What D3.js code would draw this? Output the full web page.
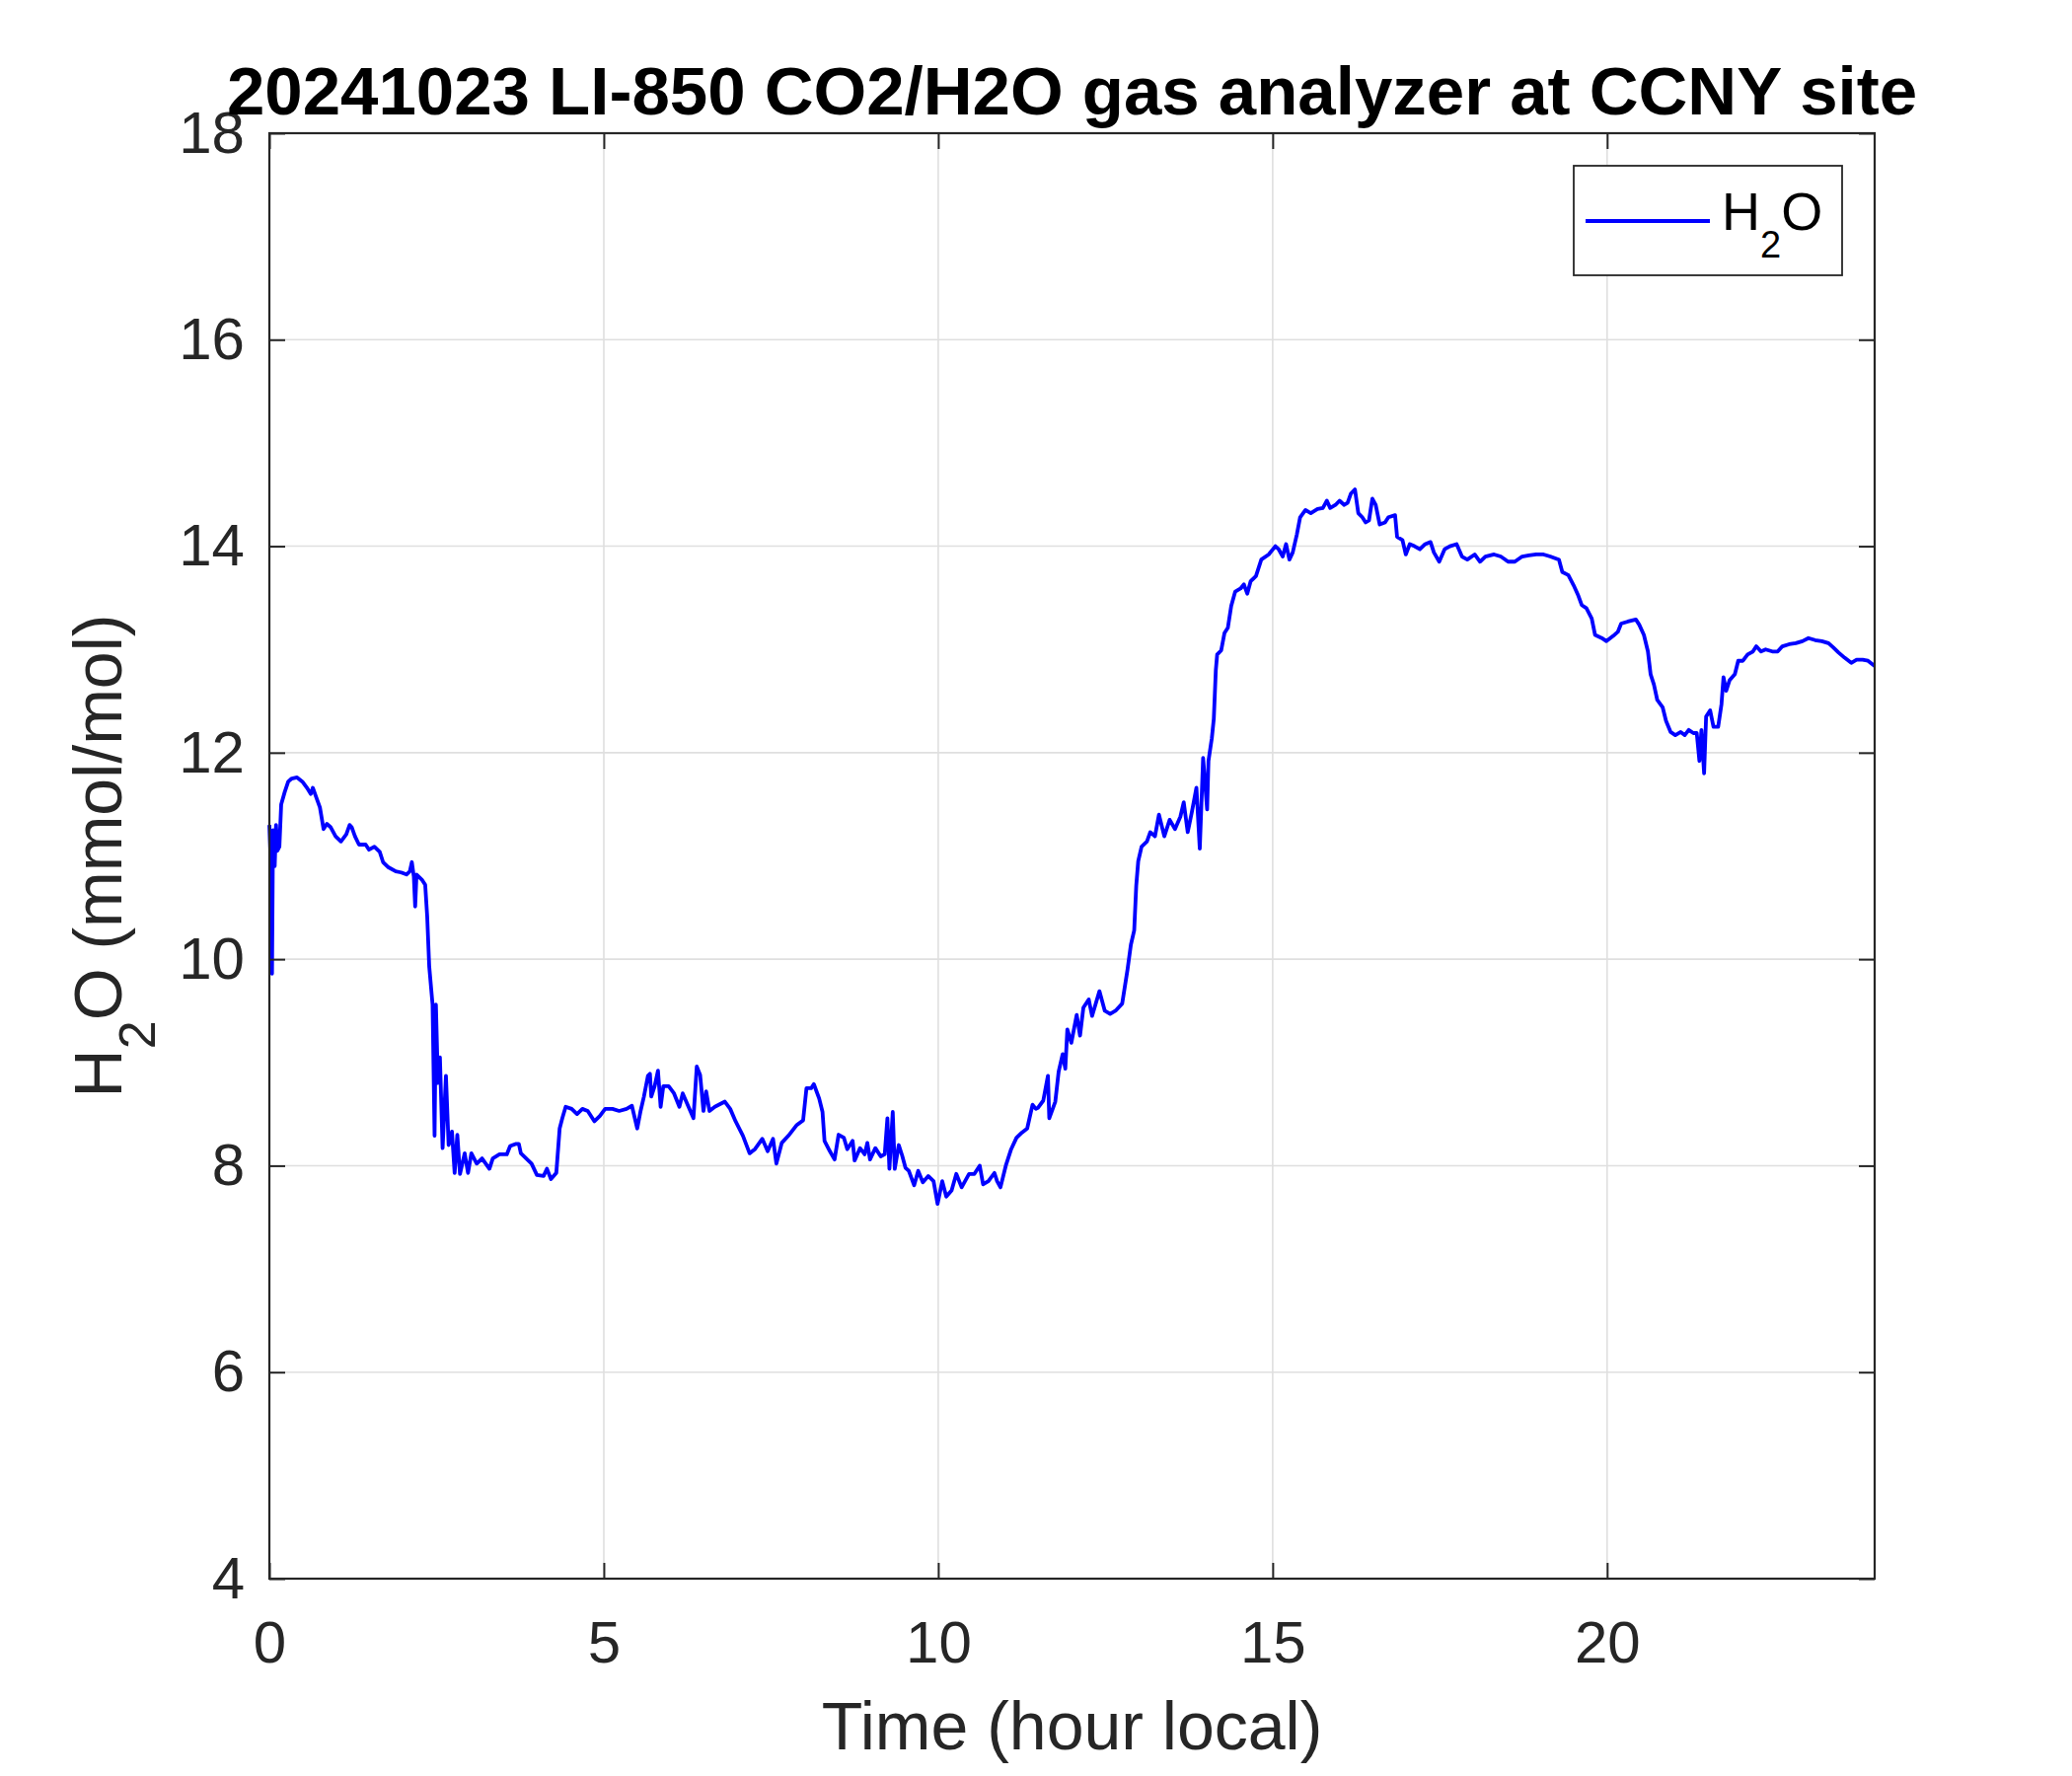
<!DOCTYPE html>
<html>
<head>
<meta charset="utf-8">
<script src="https://cdn.jsdelivr.net/npm/d3@7"></script>
<style>
  html, body { margin: 0; padding: 0; background: #ffffff; }
  svg { display: block; }
  text { font-family: "Liberation Sans", Arial, Helvetica, sans-serif; }
</style>
</head>
<body>
<svg id="chart" width="2100" height="1800"></svg>
<script>
// ---- Data ----
const titleText = "20241023 LI-850 CO2/H2O gas analyzer at CCNY site";
const xTicks = [0, 5, 10, 15, 20];
const yTicks = [4, 6, 8, 10, 12, 14, 16, 18];
const seriesName = "H2O";

const hours = [
  0.000, 0.020, 0.040, 0.055, 0.080, 0.100, 0.120, 0.150, 0.177, 0.230,
  0.282, 0.335, 0.414, 0.493, 0.572, 0.620, 0.650, 0.700, 0.756, 0.810,
  0.860, 0.914, 0.990, 1.070, 1.150, 1.200, 1.230, 1.280, 1.340, 1.440,
  1.490, 1.570, 1.650, 1.700, 1.780, 1.890, 1.970, 2.050, 2.100, 2.130,
  2.160, 2.180, 2.200, 2.280, 2.330, 2.360, 2.390, 2.440, 2.470, 2.490,
  2.520, 2.550, 2.590, 2.640, 2.680, 2.730, 2.770, 2.810, 2.850, 2.920,
  2.970, 3.020, 3.100, 3.180, 3.290, 3.340, 3.440, 3.550, 3.600, 3.680,
  3.730, 3.760, 3.840, 3.920, 4.000, 4.100, 4.150, 4.210, 4.290, 4.340,
  4.380, 4.430, 4.520, 4.600, 4.680, 4.760, 4.860, 4.940, 5.020, 5.130,
  5.230, 5.340, 5.420, 5.500, 5.550, 5.600, 5.660, 5.690, 5.710, 5.760,
  5.810, 5.850, 5.890, 5.970, 6.050, 6.130, 6.180, 6.260, 6.340, 6.390,
  6.440, 6.490, 6.530, 6.580, 6.660, 6.810, 6.890, 6.970, 7.080, 7.180,
  7.260, 7.370, 7.450, 7.530, 7.580, 7.660, 7.760, 7.880, 7.980, 8.030,
  8.100, 8.140, 8.220, 8.270, 8.300, 8.380, 8.450, 8.510, 8.590, 8.640,
  8.720, 8.750, 8.830, 8.900, 8.940, 8.980, 9.060, 9.140, 9.200, 9.240,
  9.270, 9.320, 9.350, 9.410, 9.460, 9.510, 9.560, 9.640, 9.700, 9.770,
  9.850, 9.930, 9.990, 10.060, 10.120, 10.200, 10.270, 10.350, 10.460, 10.540,
  10.620, 10.670, 10.750, 10.840, 10.880, 10.930, 11.010, 11.090, 11.170, 11.250,
  11.330, 11.410, 11.460, 11.490, 11.570, 11.640, 11.660, 11.750, 11.800, 11.860,
  11.900, 11.930, 11.990, 12.070, 12.120, 12.170, 12.250, 12.300, 12.410, 12.490,
  12.570, 12.650, 12.750, 12.830, 12.880, 12.930, 12.960, 12.990, 13.040, 13.120,
  13.170, 13.240, 13.300, 13.380, 13.460, 13.540, 13.620, 13.670, 13.730, 13.790,
  13.860, 13.910, 13.960, 14.020, 14.040, 14.090, 14.120, 14.150, 14.170, 14.230,
  14.280, 14.330, 14.380, 14.440, 14.520, 14.570, 14.620, 14.670, 14.750, 14.830,
  14.940, 15.040, 15.090, 15.150, 15.200, 15.250, 15.300, 15.360, 15.410, 15.490,
  15.570, 15.670, 15.750, 15.810, 15.860, 15.940, 16.000, 16.070, 16.120, 16.170,
  16.230, 16.280, 16.340, 16.390, 16.440, 16.490, 16.540, 16.600, 16.680, 16.730,
  16.830, 16.860, 16.940, 16.990, 17.050, 17.120, 17.200, 17.280, 17.360, 17.410,
  17.490, 17.570, 17.650, 17.750, 17.830, 17.910, 18.020, 18.100, 18.180, 18.310,
  18.410, 18.520, 18.620, 18.730, 18.830, 18.940, 19.050, 19.150, 19.280, 19.330,
  19.420, 19.500, 19.570, 19.620, 19.690, 19.770, 19.820, 19.920, 19.990, 20.090,
  20.160, 20.210, 20.310, 20.430, 20.480, 20.550, 20.610, 20.650, 20.700, 20.750,
  20.830, 20.880, 20.950, 21.020, 21.100, 21.160, 21.220, 21.290, 21.340, 21.380,
  21.410, 21.450, 21.480, 21.540, 21.590, 21.660, 21.710, 21.740, 21.780, 21.830,
  21.910, 21.960, 22.030, 22.100, 22.180, 22.230, 22.300, 22.370, 22.470, 22.550,
  22.620, 22.720, 22.820, 22.920, 23.010, 23.110, 23.210, 23.310, 23.380, 23.460,
  23.550, 23.650, 23.730, 23.820, 23.900, 24.000
];

const h2o = [
  11.30, 10.95, 9.86, 11.25, 10.90, 11.30, 11.05, 11.09, 11.50, 11.62,
  11.72, 11.75, 11.76, 11.72, 11.65, 11.60, 11.66, 11.57, 11.47, 11.26,
  11.31, 11.28, 11.19, 11.14, 11.21, 11.30, 11.28, 11.19, 11.11, 11.11,
  11.06, 11.09, 11.04, 10.94, 10.89, 10.85, 10.84, 10.82, 10.85, 10.94,
  10.80, 10.51, 10.82, 10.77, 10.72, 10.41, 9.93, 9.56, 8.29, 9.56,
  8.80, 9.05, 8.17, 8.87, 8.20, 8.33, 7.93, 8.30, 7.92, 8.12,
  7.93, 8.12, 8.02, 8.07, 7.97, 8.07, 8.11, 8.11, 8.19, 8.21,
  8.21, 8.12, 8.07, 8.02, 7.91, 7.90, 7.97, 7.87, 7.93, 8.36,
  8.46, 8.57, 8.55, 8.50, 8.55, 8.53, 8.43, 8.48, 8.55, 8.55,
  8.53, 8.55, 8.58, 8.36, 8.53, 8.67, 8.87, 8.89, 8.67, 8.77,
  8.92, 8.57, 8.77, 8.77, 8.70, 8.57, 8.70, 8.58, 8.46, 8.96,
  8.88, 8.53, 8.72, 8.53, 8.57, 8.62, 8.55, 8.43, 8.29, 8.12,
  8.16, 8.26, 8.14, 8.26, 8.02, 8.22, 8.29, 8.39, 8.44, 8.75,
  8.75, 8.79, 8.65, 8.52, 8.24, 8.14, 8.06, 8.30, 8.27, 8.16,
  8.24, 8.05, 8.17, 8.11, 8.22, 8.06, 8.17, 8.09, 8.11, 8.46,
  7.97, 8.52, 7.97, 8.20, 8.10, 7.98, 7.95, 7.81, 7.95, 7.84,
  7.90, 7.85, 7.63, 7.85, 7.70, 7.76, 7.92, 7.79, 7.92, 7.92,
  8.00, 7.82, 7.85, 7.93, 7.85, 7.79, 8.00, 8.16, 8.27, 8.32,
  8.36, 8.59, 8.55, 8.56, 8.63, 8.87, 8.46, 8.62, 8.91, 9.08,
  8.94, 9.32, 9.19, 9.46, 9.26, 9.53, 9.61, 9.45, 9.69, 9.50,
  9.47, 9.50, 9.57, 9.90, 10.14, 10.28, 10.71, 10.95, 11.09, 11.14,
  11.23, 11.19, 11.40, 11.19, 11.35, 11.26, 11.38, 11.52, 11.23, 11.42,
  11.66, 11.07, 11.95, 11.45, 11.92, 12.14, 12.33, 12.80, 12.95, 12.99,
  13.16, 13.21, 13.42, 13.56, 13.59, 13.63, 13.54, 13.66, 13.71, 13.87,
  13.92, 14.00, 13.97, 13.90, 14.02, 13.87, 13.94, 14.11, 14.28, 14.35,
  14.32, 14.36, 14.37, 14.44, 14.37, 14.40, 14.44, 14.40, 14.42, 14.51,
  14.55, 14.32, 14.28, 14.23, 14.25, 14.46, 14.40, 14.21, 14.23, 14.28,
  14.30, 14.09, 14.06, 13.92, 14.02, 14.00, 13.97, 14.02, 14.04, 13.94,
  13.85, 13.97, 14.00, 14.02, 13.90, 13.87, 13.92, 13.85, 13.90, 13.92,
  13.90, 13.85, 13.85, 13.90, 13.91, 13.92, 13.92, 13.90, 13.87, 13.75,
  13.72, 13.62, 13.52, 13.43, 13.40, 13.30, 13.14, 13.11, 13.08, 13.13,
  13.17, 13.25, 13.27, 13.29, 13.24, 13.14, 12.98, 12.76, 12.66, 12.51,
  12.44, 12.31, 12.20, 12.17, 12.20, 12.17, 12.22, 12.19, 12.19, 11.92,
  12.22, 11.80, 12.35, 12.41, 12.25, 12.25, 12.47, 12.73, 12.60, 12.70,
  12.76, 12.89, 12.89, 12.95, 12.98, 13.03, 12.98, 13.00, 12.98, 12.98,
  13.03, 13.05, 13.06, 13.08, 13.11, 13.09, 13.08, 13.06, 13.02, 12.97,
  12.92, 12.87, 12.90, 12.90, 12.89, 12.84
];

// ---- Layout ----
const svg = d3.select("#chart");
const W = 2100, H = 1800;
const plot = { left: 273, right: 1900, top: 135, bottom: 1600 };
const axisColor = "#262626";
const gridColor = "#dfdfdf";
const tickFont = 60, labelFont = 68, titleFont = 69, legendFont = 54;

svg.append("rect").attr("width", W).attr("height", H).attr("fill", "#ffffff");

const x = d3.scaleLinear().domain([0, 24]).range([plot.left, plot.right]);
const y = d3.scaleLinear().domain([4, 18]).range([plot.bottom, plot.top]);

// Grid
const grid = svg.append("g");
grid.selectAll("line.vx").data(xTicks.filter(d => d > 0)).enter().append("line")
  .attr("x1", d => x(d)).attr("x2", d => x(d))
  .attr("y1", plot.top).attr("y2", plot.bottom)
  .attr("stroke", gridColor).attr("stroke-width", 1.6);
grid.selectAll("line.hy").data(yTicks.filter(d => d > 4 && d < 18)).enter().append("line")
  .attr("x1", plot.left).attr("x2", plot.right)
  .attr("y1", d => y(d)).attr("y2", d => y(d))
  .attr("stroke", gridColor).attr("stroke-width", 1.6);

// Data line
const pts = hours.map((h, i) => [h, h2o[i]]);
const line = d3.line().x(d => x(d[0])).y(d => y(d[1]));
svg.append("path").datum(pts)
  .attr("d", line)
  .attr("fill", "none")
  .attr("stroke", "#0000ff")
  .attr("stroke-width", 3.8)
  .attr("stroke-linejoin", "round");

// Axes
function styleAxis(g) {
  g.selectAll(".domain").remove();
  g.selectAll(".tick line").attr("stroke", axisColor).attr("stroke-width", 2);
  g.selectAll(".tick text").attr("fill", axisColor)
    .style("font-family", '"Liberation Sans", Arial, Helvetica, sans-serif')
    .style("font-size", tickFont + "px");
}
const tickLen = 16;
svg.append("g").attr("transform", `translate(0,${plot.bottom})`)
  .call(d3.axisBottom(x).tickValues(xTicks).tickSize(-tickLen).tickPadding(42).tickFormat(d3.format("d")))
  .call(styleAxis);
svg.append("g").attr("transform", `translate(0,${plot.top})`)
  .call(d3.axisTop(x).tickValues(xTicks).tickSize(-tickLen).tickFormat(""))
  .call(styleAxis);
svg.append("g").attr("transform", `translate(${plot.left},0)`)
  .call(d3.axisLeft(y).tickValues(yTicks).tickSize(-tickLen).tickPadding(25).tickFormat(d3.format("d")))
  .call(styleAxis);
svg.append("g").attr("transform", `translate(${plot.right},0)`)
  .call(d3.axisRight(y).tickValues(yTicks).tickSize(-tickLen).tickFormat(""))
  .call(styleAxis);

// Box
svg.append("rect")
  .attr("x", plot.left).attr("y", plot.top)
  .attr("width", plot.right - plot.left).attr("height", plot.bottom - plot.top)
  .attr("fill", "none").attr("stroke", axisColor).attr("stroke-width", 2.2);

// Title
svg.append("text")
  .attr("x", (plot.left + plot.right) / 2).attr("y", 116)
  .attr("text-anchor", "middle")
  .attr("font-size", titleFont).attr("font-weight", "bold").attr("fill", "#000000")
  .text(titleText);

// X label
svg.append("text")
  .attr("x", (plot.left + plot.right) / 2).attr("y", 1773)
  .attr("text-anchor", "middle")
  .attr("font-size", labelFont).attr("fill", axisColor)
  .text("Time (hour local)");

// Y label with subscript
const yl = svg.append("text")
  .attr("transform", `translate(123,${(plot.top + plot.bottom) / 2}) rotate(-90)`)
  .attr("text-anchor", "middle")
  .attr("font-size", labelFont).attr("fill", axisColor);
yl.append("tspan").text("H");
yl.append("tspan").attr("font-size", 52).attr("dy", 34).text("2");
yl.append("tspan").attr("dy", -34).text("O (mmol/mol)");

// Legend
const lg = svg.append("g");
lg.append("rect").attr("x", 1595).attr("y", 168).attr("width", 272).attr("height", 111)
  .attr("fill", "#ffffff").attr("stroke", axisColor).attr("stroke-width", 1.8);
lg.append("line").attr("x1", 1607).attr("x2", 1733).attr("y1", 224).attr("y2", 224)
  .attr("stroke", "#0000ff").attr("stroke-width", 3.8);
const lt = lg.append("text").attr("x", 1745).attr("y", 233)
  .attr("font-size", legendFont).attr("fill", "#000000");
lt.append("tspan").text("H");
lt.append("tspan").attr("font-size", 38).attr("dy", 28).text("2");
lt.append("tspan").attr("dy", -28).text("O");
</script>
</body>
</html>
